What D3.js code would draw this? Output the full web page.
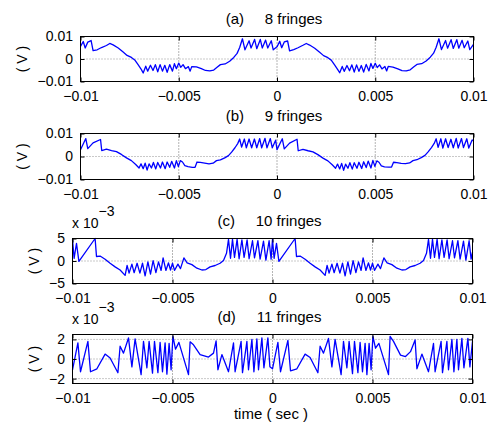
<!DOCTYPE html>
<html>
<head>
<meta charset="utf-8">
<script src="https://cdn.jsdelivr.net/npm/d3@7"></script>
<style>
body { margin: 0; background: #fff; }
svg { display: block; font-family: "Liberation Sans", Arial, sans-serif; }
</style>
</head>
<body>
<svg id="chart" width="488" height="430"></svg>
<script>
// time in ms, voltage in mV
const timeTicks = [-10, -5, 0, 5, 10];
const timeTickLabels = ["\u22120.01", "\u22120.005", "0", "0.005", "0.01"];
const panelLabels = ["(a)", "(b)", "(c)", "(d)"];
const fringeLabels = ["8 fringes", "9 fringes", "10 fringes", "11 fringes"];

const voltTicksAB = [-10, 0, 10];
const voltLabelsAB = ["\u22120.01", "0", "0.01"];
const voltTicksC = [-5, 0, 5];
const voltLabelsC = ["\u22125", "0", "5"];
const voltTicksD = [-2, 0, 2];
const voltLabelsD = ["\u22122", "0", "2"];

const signalA = [
  [-10.00,5.6],[-9.86,7.8],[-9.76,4.9],[-9.63,7.5],[-9.46,8.2],[-9.36,3.7],[-9.15,4.1],[-8.93,5.1],
  [-8.68,6.0],[-8.51,6.9],[-8.34,6.3],[-8.08,4.9],[-7.83,3.1],[-7.63,1.6],[-7.41,0.7],[-7.24,-0.4],
  [-7.07,-2.5],[-6.90,-4.7],[-6.81,-6.2],[-6.68,-3.2],[-6.58,-5.4],[-6.44,-2.8],[-6.31,-5.1],[-6.19,-2.5],
  [-6.07,-5.7],[-5.95,-2.5],[-5.83,-5.4],[-5.71,-2.8],[-5.59,-5.9],[-5.46,-2.5],[-5.32,-5.4],[-5.22,-2.1],
  [-5.12,-4.3],[-5.00,-1.8],[-4.90,-3.7],[-4.78,-2.5],[-4.66,-4.3],[-4.51,-3.4],[-4.42,-5.4],[-4.34,-3.4],
  [-4.10,-3.5],[-3.85,-4.3],[-3.64,-5.1],[-3.42,-5.3],[-3.22,-4.9],[-3.05,-3.7],[-2.88,-2.5],[-2.64,-2.2],
  [-2.41,-1.0],[-2.20,0.7],[-2.03,2.5],[-1.90,5.1],[-1.76,9.0],[-1.63,4.1],[-1.42,8.1],[-1.32,4.9],
  [-1.14,8.7],[-1.03,4.6],[-0.85,8.7],[-0.75,4.9],[-0.58,8.4],[-0.47,4.9],[-0.29,8.1],[-0.19,4.1],
  [0.00,5.4],[0.14,7.9],[0.24,5.0],[0.37,7.6],[0.54,8.0],[0.64,3.6],[0.85,4.2],[1.07,5.0],
  [1.32,6.1],[1.49,6.9],[1.66,6.2],[1.92,4.8],[2.17,3.0],[2.37,1.5],[2.59,0.6],[2.76,-0.5],
  [2.93,-2.6],[3.10,-4.8],[3.19,-6.1],[3.32,-3.3],[3.42,-5.5],[3.56,-2.9],[3.69,-5.2],[3.81,-2.6],
  [3.93,-5.8],[4.05,-2.6],[4.17,-5.5],[4.29,-2.9],[4.41,-5.8],[4.54,-2.4],[4.68,-5.3],[4.78,-2.0],
  [4.88,-4.2],[5.00,-1.9],[5.10,-3.8],[5.22,-2.6],[5.34,-4.4],[5.49,-3.3],[5.58,-5.3],[5.66,-3.3],
  [5.90,-3.6],[6.15,-4.4],[6.36,-5.2],[6.58,-5.3],[6.78,-4.8],[6.95,-3.6],[7.12,-2.4],[7.36,-2.1],
  [7.59,-0.9],[7.80,0.8],[7.97,2.6],[8.10,5.2],[8.24,9.0],[8.37,4.2],[8.58,8.2],[8.68,4.8],
  [8.86,8.6],[8.97,4.7],[9.15,8.6],[9.25,4.8],[9.42,8.3],[9.53,5.0],[9.71,8.0],[9.81,4.2],[10.00,6.5]
];

const signalB = [
  [-10.00,2.9],[-9.73,7.8],[-9.63,3.4],[-9.36,5.9],[-8.98,7.4],[-8.92,2.6],[-8.68,3.2],[-8.42,2.6],
  [-8.17,2.1],[-7.92,0.9],[-7.66,-0.6],[-7.41,-1.8],[-7.19,-3.5],[-7.02,-5.0],[-6.92,-3.2],[-6.81,-5.3],
  [-6.71,-2.9],[-6.61,-5.9],[-6.51,-3.2],[-6.39,-5.0],[-6.29,-2.6],[-6.17,-5.4],[-6.07,-2.6],[-5.93,-5.0],
  [-5.83,-2.4],[-5.69,-5.3],[-5.59,-2.4],[-5.46,-4.7],[-5.36,-2.1],[-5.22,-5.0],[-5.12,-1.8],[-5.02,-4.4],
  [-4.92,-1.8],[-4.81,-2.4],[-4.69,-4.0],[-4.53,-4.4],[-4.31,-4.7],[-4.17,-4.7],[-4.07,-2.4],[-3.90,-2.6],
  [-3.68,-2.9],[-3.46,-3.2],[-3.25,-2.9],[-3.08,-1.8],[-2.88,-1.5],[-2.66,-0.6],[-2.47,0.4],[-2.31,1.9],
  [-2.14,3.8],[-2.00,5.6],[-1.90,7.6],[-1.80,4.1],[-1.66,7.6],[-1.56,3.8],[-1.42,7.6],[-1.29,3.8],
  [-1.15,7.6],[-1.03,3.8],[-0.88,7.8],[-0.78,3.8],[-0.61,7.9],[-0.51,3.8],[-0.34,7.8],[-0.24,3.8],[-0.07,7.1],
  [0.00,3.0],[0.27,7.7],[0.37,3.3],[0.64,5.8],[1.02,7.5],[1.08,2.5],[1.32,3.1],[1.58,2.5],
  [1.83,2.0],[2.08,0.8],[2.34,-0.7],[2.59,-1.9],[2.81,-3.6],[2.98,-5.1],[3.08,-3.3],[3.19,-5.4],
  [3.29,-3.0],[3.39,-6.0],[3.49,-3.3],[3.61,-5.1],[3.71,-2.7],[3.83,-5.5],[3.93,-2.7],[4.07,-5.1],
  [4.17,-2.5],[4.31,-5.2],[4.41,-2.3],[4.54,-4.8],[4.64,-2.0],[4.78,-5.0],[4.88,-1.7],[4.98,-4.3],
  [5.08,-1.9],[5.19,-2.5],[5.31,-4.1],[5.47,-4.5],[5.69,-4.6],[5.83,-4.6],[5.93,-2.5],[6.10,-2.7],
  [6.32,-3.0],[6.54,-3.1],[6.75,-2.8],[6.92,-1.8],[7.12,-1.4],[7.34,-0.5],[7.53,0.5],[7.69,2.0],
  [7.86,3.9],[8.00,5.7],[8.10,7.7],[8.20,4.0],[8.34,7.7],[8.44,3.7],[8.58,7.7],[8.71,3.9],
  [8.85,7.5],[8.97,3.8],[9.12,7.9],[9.22,3.7],[9.39,7.8],[9.49,3.9],[9.66,7.7],[9.76,3.7],[9.93,7.2],[10.00,6.8]
];

const signalC = [
  [-10.00,4.8],[-9.92,0.6],[-9.80,3.9],[-9.68,-0.1],[-8.87,5.0],[-8.80,1.0],[-8.62,1.1],[-8.37,0.4],
  [-8.12,-0.5],[-7.87,-1.3],[-7.62,-2.0],[-7.37,-3.2],[-7.27,-1.0],[-7.17,-2.7],[-7.03,-0.7],[-6.92,-2.6],
  [-6.77,-0.5],[-6.63,-2.7],[-6.50,-0.5],[-6.37,-3.3],[-6.23,-0.2],[-6.10,-2.9],[-5.97,0.1],[-5.83,-2.6],
  [-5.70,-0.2],[-5.57,-2.1],[-5.47,0.7],[-5.33,-2.1],[-5.20,-0.4],[-5.10,-2.0],[-5.00,-0.5],[-4.90,-2.1],
  [-4.73,-0.7],[-4.60,-1.7],[-4.43,0.7],[-4.27,-0.4],[-4.03,-0.8],[-3.78,-1.6],[-3.53,-2.0],[-3.33,-1.9],
  [-3.12,-1.3],[-2.87,-1.0],[-2.62,-0.5],[-2.45,0.1],[-2.30,1.7],[-2.20,4.8],[-2.10,0.6],[-2.00,4.8],
  [-1.90,0.8],[-1.77,4.8],[-1.67,0.5],[-1.53,4.7],[-1.42,0.8],[-1.27,4.7],[-1.17,0.5],[-1.00,4.5],
  [-0.90,0.7],[-0.73,4.5],[-0.62,0.4],[-0.45,4.4],[-0.33,0.2],[-0.17,4.5],[-0.07,0.4],
  [0.00,4.8],[0.08,0.6],[0.20,3.9],[0.32,-0.1],[1.13,5.0],[1.20,1.0],[1.38,1.1],[1.63,0.4],
  [1.88,-0.5],[2.13,-1.3],[2.38,-2.0],[2.63,-3.2],[2.73,-1.0],[2.83,-2.7],[2.97,-0.7],[3.08,-2.6],
  [3.23,-0.5],[3.37,-2.7],[3.50,-0.5],[3.63,-3.3],[3.77,-0.2],[3.90,-2.9],[4.03,0.1],[4.17,-2.6],
  [4.30,-0.2],[4.43,-2.1],[4.53,0.7],[4.67,-2.1],[4.80,-0.4],[4.90,-2.0],[5.00,-0.5],[5.10,-2.1],
  [5.27,-0.7],[5.40,-1.7],[5.57,0.7],[5.73,-0.4],[5.97,-0.8],[6.22,-1.6],[6.47,-2.0],[6.67,-1.9],
  [6.88,-1.3],[7.13,-1.0],[7.38,-0.5],[7.55,0.1],[7.70,1.7],[7.80,4.8],[7.90,0.6],[8.00,4.8],
  [8.10,0.8],[8.23,4.8],[8.33,0.5],[8.47,4.7],[8.58,0.8],[8.73,4.7],[8.83,0.5],[9.00,4.5],
  [9.10,0.7],[9.27,4.5],[9.38,0.4],[9.55,4.4],[9.67,0.2],[9.83,4.5],[9.93,0.4],[10.00,2.0]
];

const signalD = [
  [-10.00,-1.1],[-9.73,1.65],[-9.60,-1.3],[-9.23,1.8],[-9.10,-1.3],[-8.78,-1.0],[-8.37,0.5],[-8.12,0.1],
  [-7.73,-1.4],[-7.62,1.3],[-7.45,0.6],[-7.20,2.15],[-7.03,-0.8],[-6.87,2.05],[-6.57,-1.6],[-6.45,1.8],
  [-6.28,-0.9],[-6.17,1.8],[-6.00,-1.45],[-5.90,1.8],[-5.73,-1.4],[-5.62,1.7],[-5.50,-1.3],[-5.37,1.65],
  [-5.28,-1.55],[-5.17,1.6],[-5.07,-1.1],[-4.98,2.3],[-4.85,1.0],[-4.68,1.7],[-4.20,-1.6],[-4.12,1.75],
  [-3.95,1.45],[-3.62,0.45],[-3.20,0.2],[-2.95,0.6],[-2.82,1.85],[-2.73,-1.1],[-2.53,0.45],[-2.20,-1.3],
  [-1.95,1.65],[-1.87,-1.3],[-1.57,1.8],[-1.50,-1.4],[-1.28,1.8],[-1.20,-1.1],[-1.03,2.0],[-0.93,-1.3],
  [-0.78,2.05],[-0.70,-1.1],[-0.53,2.15],[-0.43,-0.9],[-0.23,2.15],[-0.13,-0.8],
  [0.00,-1.0],[0.27,1.7],[0.40,-1.3],[0.77,1.9],[0.90,-1.2],[1.22,-1.0],[1.63,0.5],[1.88,0.15],
  [2.27,-1.4],[2.38,1.3],[2.55,0.6],[2.80,2.1],[2.97,-0.8],[3.13,2.0],[3.43,-1.6],[3.55,1.8],
  [3.72,-0.9],[3.83,1.8],[4.00,-1.5],[4.10,1.8],[4.27,-1.4],[4.38,1.7],[4.50,-1.3],[4.63,1.6],
  [4.72,-1.6],[4.83,1.6],[4.93,-1.1],[5.02,2.3],[5.15,1.1],[5.32,1.6],[5.80,-1.6],[5.88,2.3],
  [6.05,1.8],[6.40,0.4],[6.65,0.25],[6.90,0.75],[7.13,1.95],[7.22,-1.0],[7.47,0.5],[7.80,-1.3],
  [8.05,1.6],[8.13,-1.3],[8.43,1.8],[8.50,-1.4],[8.72,1.8],[8.80,-1.1],[8.97,2.0],[9.07,-1.3],
  [9.22,2.0],[9.30,-1.1],[9.47,2.1],[9.57,-0.9],[9.77,2.1],[9.87,-0.8],[10.00,1.8]
];

// layout for the four stacked axes
const panels = [
  { data: signalA, yDomain: [-10, 10], yTicks: voltTicksAB, yLabels: voltLabelsAB,
    left: 80.5, right: 473.5, top: 36.5, bottom: 81.5, ylabX: 22.5, exponent: false },
  { data: signalB, yDomain: [-10, 10], yTicks: voltTicksAB, yLabels: voltLabelsAB,
    left: 80.5, right: 473.5, top: 133.5, bottom: 179.5, ylabX: 22.5, exponent: false },
  { data: signalC, yDomain: [-5, 5], yTicks: voltTicksC, yLabels: voltLabelsC,
    left: 72.5, right: 472.5, top: 238.5, bottom: 283.5, ylabX: 34.5, exponent: true },
  { data: signalD, yDomain: [-2.5, 2.5], yTicks: voltTicksD, yLabels: voltLabelsD,
    left: 72.5, right: 472.5, top: 334.5, bottom: 383.5, ylabX: 34.5, exponent: true }
];

const svg = d3.select("#chart");
const tickLen = 4;
const fontSize = 14;

function styleAxis(g) {
  g.select(".domain").remove();
  g.attr("font-family", null).attr("font-size", fontSize);
  g.selectAll(".tick line").attr("stroke", "#000");
  g.selectAll(".tick text").attr("fill", "#000");
}

function drawPanel(p, i) {
  const x = d3.scaleLinear([-10, 10], [p.left, p.right]);
  const y = d3.scaleLinear(p.yDomain, [p.bottom, p.top]);

  // dotted grid
  svg.append("g").selectAll("line").data(timeTicks).join("line")
    .attr("x1", d => x(d)).attr("x2", d => x(d))
    .attr("y1", p.top).attr("y2", p.bottom)
    .attr("stroke", "#444").attr("stroke-width", 0.8).attr("stroke-dasharray", "1,2");
  svg.append("g").selectAll("line").data(p.yTicks).join("line")
    .attr("x1", p.left).attr("x2", p.right)
    .attr("y1", d => y(d)).attr("y2", d => y(d))
    .attr("stroke", "#777").attr("stroke-width", 0.8).attr("stroke-dasharray", "1,2");

  // signal
  const line = d3.line().x(d => x(d[0])).y(d => y(d[1]));
  svg.append("path").datum(p.data)
    .attr("fill", "none").attr("stroke", "#0000ff").attr("stroke-width", 1.3)
    .attr("stroke-linejoin", "round").attr("d", line);

  // axes with inward ticks
  svg.append("g").attr("transform", `translate(0,${p.bottom})`)
    .call(d3.axisBottom(x).tickValues(timeTicks).tickFormat((d, k) => timeTickLabels[k])
      .tickSizeInner(-tickLen).tickSizeOuter(0).tickPadding(10))
    .call(styleAxis);
  svg.append("g").attr("transform", `translate(0,${p.top})`)
    .call(d3.axisTop(x).tickValues(timeTicks).tickFormat("")
      .tickSizeInner(-tickLen).tickSizeOuter(0))
    .call(styleAxis);
  svg.append("g").attr("transform", `translate(${p.left},0)`)
    .call(d3.axisLeft(y).tickValues(p.yTicks).tickFormat((d, k) => p.yLabels[k])
      .tickSizeInner(-tickLen).tickSizeOuter(0).tickPadding(7.5))
    .call(styleAxis);
  svg.append("g").attr("transform", `translate(${p.right},0)`)
    .call(d3.axisRight(y).tickValues(p.yTicks).tickFormat("")
      .tickSizeInner(-tickLen).tickSizeOuter(0))
    .call(styleAxis);

  // box
  svg.append("rect")
    .attr("x", p.left).attr("y", p.top)
    .attr("width", p.right - p.left).attr("height", p.bottom - p.top)
    .attr("fill", "none").attr("stroke", "#000").attr("stroke-width", 1);

  // title
  svg.append("text")
    .attr("x", (p.left + p.right) / 2 - 3).attr("y", p.top - 12.5)
    .attr("text-anchor", "middle").attr("font-size", 15)
    .style("white-space", "pre")
    .text(`${panelLabels[i]}     ${fringeLabels[i]}`);

  // y label
  svg.append("text")
    .attr("transform", `translate(${p.ylabX},${(p.top + p.bottom) / 2}) rotate(-90)`)
    .attr("text-anchor", "middle").attr("dy", "0.35em").attr("font-size", fontSize)
    .style("white-space", "pre")
    .text("( V )");

  if (p.exponent) {
    const t = svg.append("text")
      .attr("x", p.left - 0.5).attr("y", p.top - 10.5)
      .attr("font-size", fontSize);
    t.append("tspan").text("x 10");
    t.append("tspan").attr("dy", -12).text("\u22123");
  }
}

panels.forEach(drawPanel);

// x label
svg.append("text")
  .attr("x", 271).attr("y", 419)
  .attr("text-anchor", "middle").attr("font-size", 15)
  .style("white-space", "pre")
  .text("time ( sec )");
</script>
</body>
</html>
